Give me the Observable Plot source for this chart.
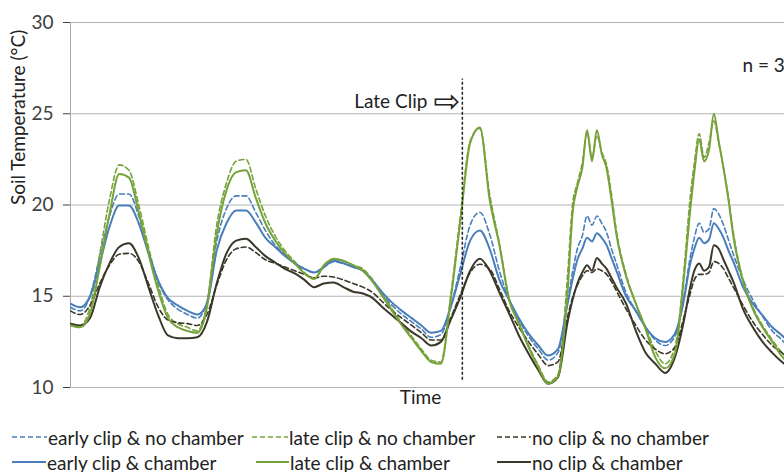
<!DOCTYPE html>
<html>
<head>
<meta charset="utf-8">
<script src="https://cdn.jsdelivr.net/npm/d3@7"></script>
<script src="https://cdn.jsdelivr.net/npm/@observablehq/plot@0.6"></script>
<style>
  body { margin: 0; background: white; }
  #wrap { width: 784px; position: relative; font-family: Lato, sans-serif; }
  #legend { position: relative; width: 784px; height: 57px; font-size: 19px; color: #222; }
  .item { position: absolute; display: flex; align-items: center; white-space: nowrap; height: 22px; }
  .item svg { display: block; margin-right: 1px; }
</style>
</head>
<body>
<div id="wrap"></div>
<script>
// ---- data (hours since start, soil temperature °C) ----
const hours = [0,2,4,6,8,10,12,14,16,18,20,22,24,26,28,30,32,34,36,38,40,42,44,46,48,50,52,54,56,58,60,62,64,66,68,70,72,74,76,78,80,82,84,86,88,90,92,94,96,98,100,102,103,104,105,106,107,108,109,110,111,112,114,116,118,120,122,124,126,127,128,129,130,131,132,133,134,135,136,138,140,142,144,146,147];

const earlyNoChamber = [14.4,14.2,15.0,17.2,19.4,20.6,20.6,19.4,17.5,15.8,14.8,14.3,14.0,13.8,
  14.7,18.0,19.8,20.5,20.5,19.6,18.6,17.8,17.3,16.8,16.5,16.3,16.6,16.9,16.8,16.6,
  16.4,15.8,15.1,14.5,14.0,13.6,13.2,12.75,12.9,14.4,16.6,18.9,19.6,18.4,
  16.4,14.8,13.7,12.8,12.1,11.5,11.9,
  14.8,16.3,17.6,18.3,19.4,18.9,19.4,19.0,18.5,17.6,16.8,
  15.2,14.2,13.3,12.6,12.3,12.8,15.2,
  16.9,18.2,19.0,18.5,18.7,19.8,19.5,18.9,18.1,17.3,
  15.9,14.8,13.9,13.1,12.6,12.3];

const lateNoChamber = [13.5,13.4,14.4,17.3,20.3,22.2,21.9,20.0,17.7,15.6,14.0,13.5,13.3,13.1,
  14.6,18.9,21.2,22.4,22.5,20.9,19.4,18.3,17.5,16.9,16.3,16.0,16.6,17.0,16.9,16.7,
  16.5,15.9,15.1,14.3,13.5,12.8,12.1,11.5,11.4,15.0,19.4,23.5,24.2,20.6,
  17.9,14.9,13.6,12.3,11.2,10.3,10.7,
  16.2,20.0,21.2,22.3,24.0,22.6,23.8,22.9,22.2,20.6,18.6,
  16.2,14.6,13.3,12.0,11.3,12.2,16.8,
  20.0,22.3,23.9,22.6,23.4,24.6,23.4,22.0,20.4,18.5,
  15.9,14.4,13.4,12.6,11.9,11.6];

const noClipNoChamber = [14.2,14.0,14.5,15.7,16.7,17.3,17.35,16.9,15.7,14.4,13.7,13.55,13.5,13.4,
  14.0,15.6,17.0,17.6,17.7,17.4,17.0,16.8,16.6,16.4,16.2,16.0,16.1,16.05,15.9,15.7,
  15.5,15.2,14.7,14.2,13.8,13.4,13.0,12.6,12.6,13.8,15.1,16.3,16.75,16.5,
  15.4,14.2,13.3,12.5,11.8,11.2,11.4,
  13.9,14.9,15.6,16.1,16.4,16.3,16.5,16.4,16.2,15.8,15.3,
  14.3,13.4,12.6,12.1,11.85,12.2,14.0,
  15.0,15.9,16.2,16.2,16.3,16.9,16.8,16.5,16.0,15.5,
  14.5,13.6,12.9,12.3,11.9,11.7];

const earlyChamber = [14.6,14.4,15.0,16.8,18.8,19.97,19.97,19.0,17.35,15.86,14.9,14.5,14.2,14.0,
  14.6,17.5,19.0,19.7,19.7,19.05,18.2,17.7,17.2,16.8,16.5,16.3,16.6,16.95,16.8,16.6,
  16.4,15.85,15.2,14.65,14.2,13.8,13.4,13.0,13.1,14.4,16.25,18.05,18.6,17.6,
  15.9,14.8,13.8,12.95,12.3,11.75,12.1,
  14.6,15.9,17.0,17.6,18.2,18.0,18.45,18.2,17.8,17.1,16.4,
  15.0,14.2,13.3,12.7,12.5,12.95,15.0,
  16.6,17.6,18.2,17.9,18.1,19.0,18.7,18.2,17.5,16.9,
  15.5,14.6,13.95,13.3,12.85,12.6];

const lateChamber = [13.4,13.3,14.05,16.6,19.5,21.7,21.5,19.6,17.35,15.3,13.8,13.3,13.1,13.0,
  14.4,18.4,20.8,21.8,21.9,20.4,19.0,18.05,17.35,16.8,16.25,15.95,16.7,17.05,16.95,16.7,
  16.4,15.8,15.0,14.2,13.4,12.7,12.0,11.4,11.3,14.8,19.15,23.4,24.25,20.3,
  17.8,14.8,13.5,12.2,11.1,10.2,10.6,
  15.3,19.5,21.0,22.0,24.1,22.4,24.1,22.8,22.0,20.3,18.4,
  16.1,14.6,13.2,11.65,11.05,11.85,16.4,
  19.3,21.8,23.6,22.4,23.0,25.0,23.5,22.0,20.3,18.3,
  15.8,14.3,13.3,12.5,11.7,11.4];

const noClipChamber = [13.5,13.4,13.8,15.5,16.8,17.7,17.9,17.1,15.5,13.95,12.85,12.7,12.7,12.75,
  13.6,15.7,17.35,18.05,18.15,17.7,17.2,16.85,16.5,16.25,15.9,15.5,15.7,15.75,15.5,15.25,
  15.15,14.9,14.4,13.95,13.5,13.05,12.7,12.3,12.5,13.7,14.95,16.4,17.05,16.4,
  15.2,14.05,12.85,11.85,10.95,10.2,10.55,
  13.6,14.8,15.7,16.3,16.7,16.4,17.1,16.8,16.5,16.0,15.5,
  14.6,13.1,11.9,11.3,10.8,11.65,13.85,
  15.3,16.4,16.8,16.4,16.6,17.8,17.6,17.0,16.4,15.8,
  14.3,13.3,12.5,11.9,11.4,11.2];

const seriesNames = ["early clip & no chamber","late clip & no chamber","no clip & no chamber",
                     "early clip & chamber","late clip & chamber","no clip & chamber"];
const yTicks = [10,15,20,25,30];
const lateClipHour = 80.4;
const lateClipText = "Late Clip";
const arrowText = "\u21E8";
const yLabel = "Soil Temperature (\u00B0C)";
const xLabel = "Time";
const nText = "n = 3";

// ---- styles ----
const BLUE = "#4a7ebb", GREEN = "#76a23a", DARK = "#3b3729";
const allSeries = [earlyNoChamber, lateNoChamber, noClipNoChamber, earlyChamber, lateChamber, noClipChamber];
const seriesStyle = [
  {color: BLUE, dash: "5,3", width: 1.6},
  {color: GREEN, dash: "5,3", width: 1.6},
  {color: DARK, dash: "5,3", width: 1.6},
  {color: BLUE, dash: null, width: 2},
  {color: GREEN, dash: null, width: 2},
  {color: DARK, dash: null, width: 2}
];
const drawOrder = [0, 1, 2, 3, 5, 4];

const lineMarks = drawOrder.map(k => {
  const vals = allSeries[k], s = seriesStyle[k];
  const rows = hours.map((h, i) => ({h, v: vals[i], series: seriesNames[k]}));
  return Plot.line(rows, {x: "h", y: "v", stroke: s.color, strokeWidth: s.width,
    strokeDasharray: s.dash || undefined, curve: "monotone-x", clip: true});
});

const chart = Plot.plot({
  width: 784, height: 415,
  marginLeft: 70, marginRight: 0, marginTop: 22, marginBottom: 28,
  style: {fontFamily: "Lato, sans-serif", fontSize: "19px", color: "#404040", background: "white", overflow: "hidden"},
  x: {domain: [0, 146.5], axis: null},
  y: {domain: [10, 30], ticks: yTicks, tickSize: 7, tickPadding: 10, label: null},
  marks: [
    Plot.ruleY(yTicks, {stroke: "#b4b4b4", strokeWidth: 1}),
    Plot.ruleX([0], {stroke: "#a8a8a8", strokeWidth: 1}),
    ...lineMarks,
    Plot.ruleX([lateClipHour], {y1: 10.4, y2: 26.9, stroke: "#222", strokeWidth: 1.5, strokeDasharray: "3,2"}),
    Plot.text([lateClipText], {x: lateClipHour, y: 25.65, text: d => d, textAnchor: "end", dx: -35, fill: "#222", fontSize: 19}),
    Plot.text([arrowText], {x: lateClipHour, y: 25.65, text: d => d, textAnchor: "end", dx: -2, fill: "#222", fontSize: 32, fontFamily: "DejaVu Sans"}),
    Plot.text([nText], {frameAnchor: "top-right", dx: -42, dy: 36, text: d => d, textAnchor: "start", fill: "#222", fontSize: 19}),
    Plot.text([xLabel], {frameAnchor: "bottom", dx: -7, dy: 16, text: d => d, fill: "#222", fontSize: 19}),
    Plot.text([yLabel], {frameAnchor: "left", dx: -52, rotate: -90, text: d => d, fill: "#222", fontSize: 19})
  ]
});
document.getElementById("wrap").appendChild(chart);

// ---- legend (HTML below the SVG) ----
const legend = document.createElement("div");
legend.id = "legend";
const legendItems = [
  {s: 0, left: 12, row: 0, sw: 35}, {s: 1, left: 252, row: 0, sw: 36}, {s: 2, left: 497, row: 0, sw: 34},
  {s: 3, left: 12, row: 1, sw: 34}, {s: 4, left: 256, row: 1, sw: 33}, {s: 5, left: 497, row: 1, sw: 34}
];
legendItems.forEach(it => {
  const name = seriesNames[it.s];
  const s = seriesStyle[it.s];
  const el = document.createElement("div");
  el.className = "item";
  el.style.left = it.left + "px";
  el.style.top = (it.row === 0 ? 11 : 36) + "px";
  const ns = "http://www.w3.org/2000/svg";
  const sv = document.createElementNS(ns, "svg");
  sv.setAttribute("width", it.sw); sv.setAttribute("height", 10);
  const ln = document.createElementNS(ns, "line");
  ln.setAttribute("x1", 0); ln.setAttribute("x2", it.sw);
  ln.setAttribute("y1", 5); ln.setAttribute("y2", 5);
  ln.setAttribute("stroke", s.color);
  ln.setAttribute("stroke-width", s.dash ? 1.6 : 2.2);
  if (s.dash) ln.setAttribute("stroke-dasharray", "5,3");
  sv.appendChild(ln);
  el.appendChild(sv);
  const t = document.createElement("span");
  t.textContent = name;
  el.appendChild(t);
  legend.appendChild(el);
});
document.getElementById("wrap").appendChild(legend);
</script>
</body>
</html>
